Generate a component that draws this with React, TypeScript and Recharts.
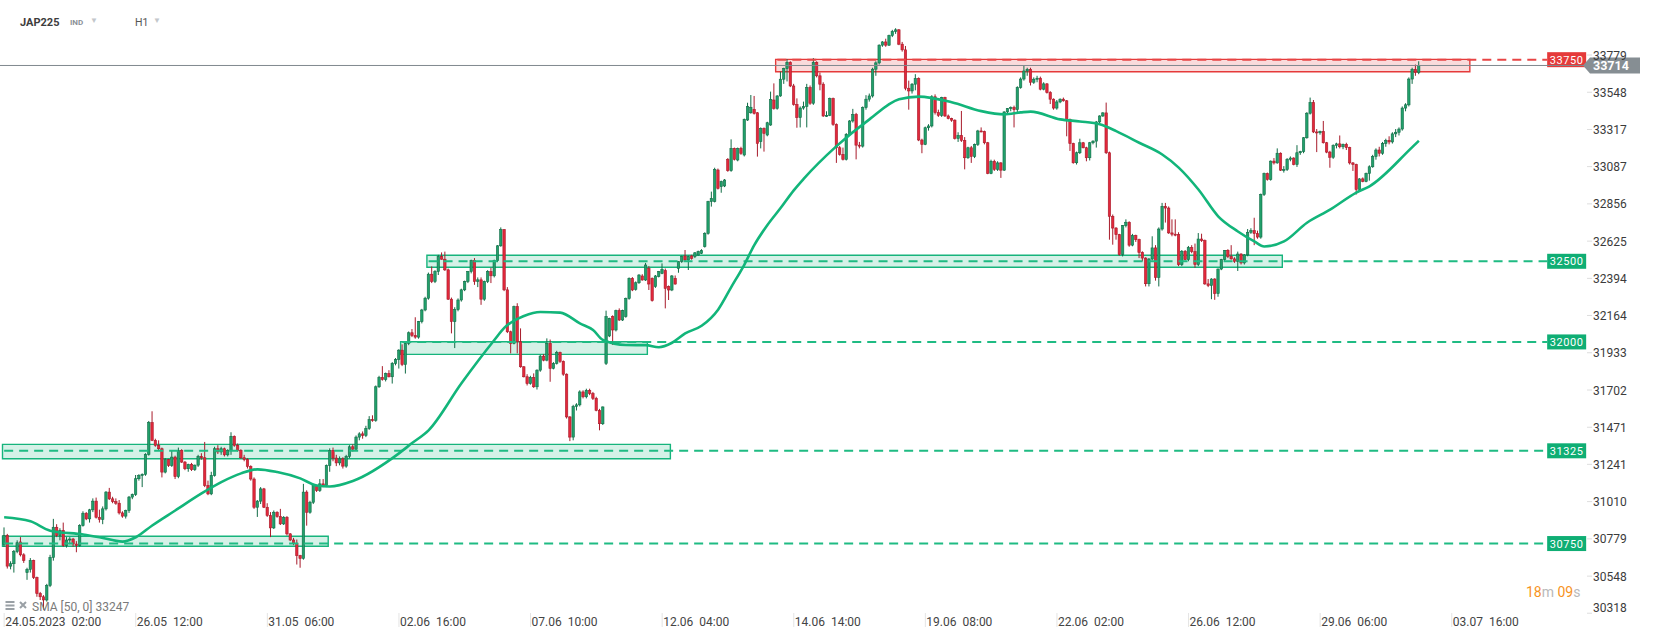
import React from "react";
import {
  Bar,
  ComposedChart,
  Line,
  ReferenceArea,
  ReferenceLine,
  XAxis,
  YAxis,
} from "recharts";

// hourly candles, [open, high, low, close]
type Ohlc = [number, number, number, number];

const leg1: Ohlc[] = [
  [30745,30850,30730,30800],[30800,30810,30595,30610],[30610,30640,30590,30625],[30625,30710,30570,30700],[30700,30770,30690,30755],[30760,30790,30670,30680],[30680,30690,30630,30645],[30570,30600,30525,30590],[30590,30660,30570,30645],[30645,30650,30530,30540],
  [30540,30545,30420,30440],[30440,30450,30400,30420],[30420,30430,30340,30400],[30400,30500,30390,30490],[30490,30680,30480,30664],[30664,30903,30644,30851],[30851,30870,30790,30800],[30800,30845,30770,30830],[30830,30880,30730,30737],[30737,30790,30725,30772],
  [30772,30790,30745,30778],[30778,30785,30730,30747],[30747,30765,30696,30737],[30737,30870,30730,30861],[30861,30950,30855,30938],[30938,30945,30895,30903],[30903,30965,30880,30959],[30959,31030,30945,31013],[31013,31035,30905,30913],[30913,30960,30880,30900],
  [30900,30980,30870,30965],[30965,31075,30955,31069],[31069,31095,31020,31027],[31027,31040,31000,31010],[31010,31030,30990,31000],[31000,31020,30930,30940],[30940,30950,30910,30920],[30920,30960,30905,30955],[30955,31045,30940,31038],[31038,31060,31025,31054],
  [31054,31175,31045,31152],[31152,31180,31140,31172],[31172,31185,31100,31179],[31179,31310,31170,31303],[31303,31510,31295,31500],[31500,31570,31385,31390],[31390,31400,31350,31359],[31359,31390,31330,31338],
];
const leg2: Ohlc[] = [
  [31338,31345,31160,31193],[31193,31280,31185,31270],[31270,31275,31225,31234],[31234,31325,31225,31286],[31286,31295,31150,31165],[31165,31345,31155,31328],[31328,31335,31250,31255],[31255,31262,31205,31214],[31214,31245,31195,31240],[31240,31250,31200,31208],
  [31208,31240,31200,31236],[31236,31300,31225,31290],[31290,31310,31270,31282],[31282,31380,31100,31110],[31110,31140,31050,31058],[31058,31195,31050,31172],[31172,31350,31165,31338],[31338,31360,31305,31318],[31318,31350,31300,31338],[31338,31345,31290,31300],
  [31300,31335,31290,31328],[31328,31440,31300,31415],[31415,31420,31350,31359],[31359,31370,31320,31328],[31328,31335,31275,31282],[31282,31300,31260,31272],[31272,31280,31215,31228],[31228,31235,31140,31150],[31150,31160,30965,30975],[30975,31020,30915,31013],
  [31013,31100,30995,31089],[31089,31095,30970,30975],[30975,31000,30915,30924],[30924,30945,30790,30847],[30847,30955,30840,30944],[30944,30950,30910,30917],[30917,30965,30865,30872],[30872,30920,30865,30913],[30913,30920,30800,30810],[30810,30815,30765,30772],
  [30772,30785,30740,30752],[30752,30775,30620,30675],[30675,30680,30600,30658],[30658,31120,30650,31069],[31069,31080,30861,30944],[30944,31015,30935,31006],[31006,31120,30995,31110],[31110,31115,31070,31079],
];
const leg3: Ohlc[] = [
  [31079,31150,31070,31120],[31120,31150,31100,31110],[31110,31240,31100,31234],[31234,31340,31195,31328],[31328,31345,31260,31280],[31280,31300,31230,31250],[31250,31290,31235,31275],[31275,31285,31215,31230],[31230,31300,31220,31290],[31290,31360,31280,31350],
  [31350,31365,31320,31335],[31335,31420,31325,31410],[31410,31440,31390,31430],[31430,31445,31400,31420],[31420,31480,31410,31464],[31464,31540,31455,31518],[31518,31545,31505,31514],[31514,31730,31505,31722],[31722,31790,31715,31780],[31780,31850,31760,31767],
  [31767,31810,31755,31804],[31804,31825,31780,31784],[31784,31875,31742,31867],[31867,31900,31855,31891],[31891,31955,31835,31949],[31949,31985,31850,31860],[31860,32000,31804,31991],[31991,32065,31980,32057],[32057,32080,32030,32040],[32040,32153,32020,32030],
  [32030,32130,32020,32126],[32126,32205,32115,32198],[32198,32280,32190,32271],[32271,32430,32262,32420],[32420,32468,32365,32375],[32375,32445,32365,32437],[32437,32540,32415,32530],[32530,32555,32510,32513],[32513,32560,32440,32447],[32447,32455,32260,32265],
  [32265,32275,32053,32126],[32126,32215,31962,32200],[32200,32270,32190,32260],[32260,32330,32250,32323],[32323,32380,32315,32375],[32375,32440,32365,32437],[32437,32510,32425,32505],[32505,32520,32354,32375],
];
const leg4: Ohlc[] = [
  [32375,32400,32340,32385],[32385,32400,32230,32265],[32265,32380,32255,32375],[32375,32445,32365,32437],[32437,32460,32365,32410],[32410,32510,32400,32505],[32505,32600,32495,32596],[32596,32710,32590,32696],[32696,32700,32315,32323],[32323,32340,32055,32063],
  [32063,32070,31929,31991],[31991,32225,31985,32219],[32219,32240,31929,32001],[32001,32084,31840,31846],[31846,31850,31780,31784],[31784,31800,31730,31742],[31742,31790,31735,31780],[31780,31805,31715,31722],[31722,31830,31705,31825],[31825,31920,31815,31912],
  [31912,31925,31880,31887],[31887,32022,31880,31991],[31991,32015,31753,31836],[31836,31875,31830,31867],[31867,31945,31860,31935],[31935,31940,31870,31880],[31880,31885,31790,31800],[31800,31805,31525,31535],[31535,31540,31385,31410],[31410,31610,31390,31600],
  [31600,31620,31575,31610],[31610,31700,31600,31690],[31690,31700,31650,31660],[31660,31710,31650,31700],[31700,31710,31670,31680],[31680,31690,31640,31650],[31650,31660,31570,31576],[31576,31585,31452,31493],[31493,31600,31485,31597],
  [31867,32194,31857,32157],[32037,32150,32030,32146],[32157,32165,31981,32074],[32074,32200,32065,32194],[32194,32208,32130,32136],[32136,32200,32130,32194],[32157,32275,32150,32270],[32270,32400,32262,32394],[32394,32402,32315,32322],
];
const leg5: Ohlc[] = [
  [32326,32375,32318,32367],[32367,32420,32360,32415],[32409,32420,32380,32384],[32384,32490,32378,32477],[32456,32470,32322,32359],[32394,32400,32250,32256],[32343,32415,32335,32409],[32405,32440,32400,32436],[32425,32487,32420,32450],[32442,32455,32208,32332],
  [32343,32350,32260,32322],[32322,32415,32315,32409],[32394,32412,32355,32359],[32456,32500,32429,32498],[32498,32535,32490,32529],[32533,32570,32500,32508],[32508,32535,32446,32529],[32533,32540,32510,32518],[32529,32556,32520,32553],[32539,32566,32535,32560],
  [32549,32575,32545,32566],[32591,32680,32585,32673],[32673,32875,32665,32870],[32870,32932,32839,32890],[32870,33080,32865,33070],[33066,33075,32945,32952],[32963,33000,32925,32994],[32967,33010,32960,33004],[33132,33140,33055,33062],[33062,33256,33055,33200],
  [33200,33205,33125,33132],[33128,33205,33120,33200],[33200,33210,33160,33169],[33159,33385,33150,33380],[33376,33483,33370,33459],[33421,33531,33415,33455],[33442,33525,33410,33417],[33421,33425,33149,33231],[33242,33330,33200,33324],[33324,33330,33180,33293],
  [33283,33365,33275,33359],[33345,33552,33340,33504],[33500,33603,33440,33448],[33448,33530,33440,33525],[33525,33676,33520,33629],[33629,33700,33600,33695],[33695,33753,33615,33733],[33733,33740,33580,33587],
];
const leg6: Ohlc[] = [
  [33587,33600,33465,33473],[33473,33510,33328,33391],[33391,33460,33330,33450],[33450,33490,33440,33460],[33460,33600,33330,33577],[33577,33590,33470,33480],[33480,33760,33470,33733],[33733,33740,33640,33650],[33650,33670,33560,33598],[33598,33610,33395,33401],
  [33401,33430,33395,33405],[33405,33515,33400,33509],[33509,33515,33340,33349],[33349,33355,33110,33204],[33204,33215,33155,33163],[33163,33205,33125,33132],[33132,33295,33125,33287],[33287,33375,33280,33370],[33370,33445,33360,33410],[33410,33420,33132,33220],
  [33220,33240,33200,33214],[33214,33460,33205,33453],[33453,33530,33440,33505],[33505,33540,33490,33525],[33525,33700,33515,33691],[33691,33740,33650,33730],[33730,33845,33720,33840],[33840,33865,33830,33860],[33860,33880,33830,33840],[33840,33905,33835,33900],
  [33900,33935,33890,33925],[33925,33945,33910,33935],[33935,33940,33840,33846],[33846,33860,33800,33811],[33811,33835,33560,33573],[33573,33620,33440,33556],[33556,33605,33540,33598],[33598,33660,33560,33633],[33633,33640,33245,33252],[33252,33260,33170,33225],
  [33225,33335,33220,33328],[33328,33350,33310,33339],[33339,33530,33330,33520],[33520,33535,33410,33422],[33422,33440,33395,33405],[33405,33520,33395,33515],[33515,33520,33395,33401],[33401,33410,33380,33385],
];
const leg7: Ohlc[] = [
  [33385,33390,33365,33375],[33375,33380,33255,33262],[33262,33300,33240,33280],[33280,33432,33240,33250],[33250,33270,33070,33142],[33142,33210,33135,33204],[33204,33215,33110,33150],[33150,33230,33140,33225],[33225,33315,33215,33308],[33308,33330,33300,33305],
  [33305,33310,33225,33235],[33235,33240,33040,33045],[33045,33130,33040,33120],[33120,33130,33060,33070],[33070,33120,33060,33110],[33110,33115,33017,33065],[33065,33430,33060,33426],[33426,33450,33410,33447],[33447,33460,33430,33453],[33453,33465,33330,33440],
  [33440,33585,33425,33577],[33577,33640,33570,33630],[33630,33715,33620,33680],[33680,33700,33650,33690],[33690,33700,33590,33610],[33610,33640,33600,33629],[33629,33650,33610,33635],[33635,33645,33560,33567],[33567,33610,33560,33600],[33600,33605,33540,33546],
  [33546,33555,33475,33505],[33505,33510,33440,33450],[33450,33500,33440,33488],[33488,33510,33480,33505],[33505,33515,33490,33495],[33495,33500,33275,33380],[33380,33385,33184,33230],[33230,33235,33105,33111],[33111,33180,33100,33173],[33173,33260,33165,33235],
  [33235,33240,33200,33204],[33204,33210,33120,33142],[33142,33240,33125,33235],[33235,33250,33225,33245],[33245,33370,33205,33364],[33364,33405,33355,33401],[33401,33425,33395,33420],[33420,33484,33165,33173],
];
const leg8: Ohlc[] = [
  [33173,33180,32634,32779],[32779,32790,32603,32706],[32706,32712,32634,32665],[32665,32670,32535,32541],[32541,32725,32530,32721],[32721,32760,32710,32742],[32742,32748,32590,32600],[32600,32670,32593,32660],[32660,32665,32620,32634],[32634,32640,32520,32555],
  [32555,32562,32500,32520],[32520,32525,32344,32361],[32361,32520,32344,32514],[32514,32655,32505,32583],[32583,32600,32380,32400],[32400,32710,32344,32700],[32700,32862,32690,32841],[32841,32862,32740,32830],[32830,32840,32670,32676],[32676,32760,32655,32668],
  [32668,32760,32655,32665],[32665,32680,32470,32479],[32479,32570,32470,32562],[32562,32570,32505,32510],[32510,32595,32500,32585],[32585,32600,32550,32560],[32560,32610,32460,32480],[32480,32675,32470,32638],[32638,32671,32620,32628],[32628,32635,32354,32360],
  [32360,32390,32340,32350],[32350,32395,32265,32390],[32390,32395,32261,32300],[32300,32455,32280,32452],[32452,32515,32445,32510],[32510,32570,32500,32568],[32568,32575,32520,32530],[32530,32600,32510,32515],[32515,32525,32490,32500],[32500,32560,32440,32545],
  [32545,32550,32480,32490],[32490,32545,32480,32540],[32540,32700,32531,32680],[32680,32705,32670,32690],[32690,32770,32600,32672],[32672,32690,32640,32650],[32650,32920,32640,32914],[32914,33050,32905,33044],
];
const leg9: Ohlc[] = [
  [33044,33050,33000,33007],[33007,33125,33000,33121],[33121,33140,33100,33110],[33110,33200,33105,33170],[33170,33175,33060,33065],[33065,33090,33050,33069],[33069,33140,33060,33132],[33132,33150,33120,33140],[33140,33145,33095,33100],[33100,33220,33085,33173],
  [33173,33185,33160,33180],[33180,33270,33170,33266],[33266,33425,33260,33418],[33418,33515,33410,33484],[33484,33500,33295,33302],[33302,33320,33177,33297],[33297,33310,33285,33305],[33305,33370,33230,33235],[33235,33240,33170,33177],[33177,33185,33080,33145],
  [33145,33225,33135,33218],[33218,33235,33200,33228],[33228,33280,33200,33210],[33210,33230,33195,33225],[33225,33235,33190,33205],[33205,33210,33100,33110],[33110,33115,33060,33100],[33100,33105,32914,32945],[32945,33015,32940,33011],[33011,33020,32990,32995],
  [32995,33050,32990,33045],[33045,33095,33000,33086],[33086,33160,33080,33150],[33150,33200,33130,33190],[33190,33210,33150,33170],[33170,33240,33160,33230],[33230,33260,33210,33250],[33250,33275,33225,33240],[33240,33300,33230,33290],[33290,33320,33270,33300],
  [33300,33330,33280,33320],[33320,33460,33310,33450],[33450,33480,33430,33470],[33470,33640,33460,33630],[33630,33700,33600,33690],[33690,33720,33650,33670],[33670,33740,33660,33714],
];

// SMA(50): [bar index, value]
const sma: [number, number][] = [
  [0,30913],[8,30888],[14,30830],[24,30806],[29,30789],[36,30762],[40,30789],[45,30862],[52,30955],[60,31061],
  [66,31131],[72,31185],[77,31210],[83,31193],[90,31154],[95,31110],[99,31104],[106,31138],[120,31309],[124,31373],
  [129,31452],[139,31744],[149,32012],[152,32087],[158,32161],[163,32186],[169,32182],[175,32115],[179,32074],[182,32012],
  [189,31981],[195,31980],[199,31967],[203,31995],[207,32053],[212,32100],[217,32200],[221,32340],[225,32480],[228,32600],
  [232,32725],[236,32830],[240,32940],[243,33011],[253,33214],[263,33380],[272,33504],[278,33521],[288,33486],[297,33431],
  [304,33411],[309,33423],[312,33428],[321,33380],[327,33367],[333,33349],[338,33307],[345,33235],[352,33162],[357,33081],
  [363,32945],[369,32779],[375,32685],[380,32623],[383,32592],[389,32623],[396,32739],[403,32820],[411,32926],[415,32965],
  [428,33208],[430,33247],
];

const xTickIdx = [0, 40, 80, 120, 160, 200, 240, 280, 320, 360, 400, 440];
const xTickDate = ["24.05.2023", "26.05", "31.05", "02.06", "07.06", "12.06", "14.06", "19.06", "22.06", "26.06", "29.06", "03.07"];
const xTickTime = ["02:00", "12:00", "06:00", "16:00", "10:00", "04:00", "14:00", "08:00", "02:00", "12:00", "06:00", "16:00"];
const yTicks = [30318, 30548, 30779, 31010, 31241, 31471, 31702, 31933, 32164, 32394, 32625, 32856, 33087, 33317, 33548, 33779];

// support / resistance zones
const levels = [33750, 32500, 32000, 31325, 30750];
const zoneTop = [33752, 32537, 32001, 31365, 30795];
const zoneBottom = [33675, 32463, 31923, 31276, 30733];
const zoneStart = [235, 129, 121, 0, 0];
const zoneEnd = [445, 388, 195, 202, 98];

const lastPrice = 33714;
const smaLast = 33247;

const SLOTS = 481;
const FONT = "Roboto, 'Noto Sans', sans-serif";
const GREEN = "#16b47c";
const RED = "#e53a3a";

const candles = [...leg1, ...leg2, ...leg3, ...leg4, ...leg5, ...leg6, ...leg7, ...leg8, ...leg9];
const smaMap = new Map(sma);
const rows = Array.from({ length: SLOTS }, (_, i) => {
  const k = candles[i];
  const s = smaMap.has(i) ? smaMap.get(i) : null;
  if (!k) return { i, sma: s };
  return { i, o: k[0], h: k[1], l: k[2], c: k[3], range: [k[2], k[1]], sma: s };
});

const Candle = (props: any) => {
  const { x, y, width, height, payload } = props;
  if (!payload || payload.o == null || !isFinite(y) || !isFinite(height)) return null;
  const { o, h, l, c } = payload;
  const top = Math.min(y, y + height);
  const span = Math.abs(height);
  const k = h > l ? span / (h - l) : 0;
  const cx = x + width / 2;
  const bTop = top + (h - Math.max(o, c)) * k;
  const bBot = top + (h - Math.min(o, c)) * k;
  const up = c >= o;
  const fill = up ? "#21a06b" : "#e2283b";
  const edge = up ? "#116c46" : "#a81b2b";
  return (
    <g>
      <line x1={cx} x2={cx} y1={top} y2={top + span} stroke={edge} strokeWidth={1} />
      <rect x={cx - 1.2} y={bTop} width={2.4} height={Math.max(1, bBot - bTop)} fill={fill} stroke={edge} strokeWidth={0.6} />
    </g>
  );
};

const XTick = (props: any) => {
  const { x, y, payload } = props;
  const n = xTickIdx.indexOf(payload.value);
  if (n < 0) return null;
  return (
    <g>
      <line x1={x} x2={x} y1={y - 7} y2={y + 7} stroke="#e4e4e4" strokeWidth={1} />
      <text x={x + 1} y={y + 5.5} fontSize={12} fill="#444" fontFamily={FONT}>
        <tspan>{xTickDate[n]}</tspan>
        <tspan dx={6}>{xTickTime[n]}</tspan>
      </text>
    </g>
  );
};

const YTick = (props: any) => {
  const { x, y, payload } = props;
  return (
    <g>
      <line x1={x + 2} x2={x + 7} y1={y} y2={y} stroke="#dedede" strokeWidth={1} />
      <text x={x + 8} y={Math.min(y, 607)} dy={4.5} fontSize={12} fill="#3b3b3b" fontFamily={FONT}>
        {payload.value}
      </text>
    </g>
  );
};

const levelTag = (text: string, color: string) => (props: any) => {
  const vb = props.viewBox || {};
  const ex = (vb.x || 0) + (vb.width || 0);
  const cy = vb.y || 0;
  return (
    <g>
      <rect x={ex} y={cy - 7.5} width={39} height={15} fill={color} />
      <text x={ex + 19.5} y={cy + 4} textAnchor="middle" fontSize={11} letterSpacing={0.6} fill="#fff" fontFamily={FONT}>
        {text}
      </text>
    </g>
  );
};

const priceTag = (props: any) => {
  const vb = props.viewBox || {};
  const ex = (vb.x || 0) + (vb.width || 0) - 2;
  const cy = vb.y || 0;
  return (
    <g>
      <polygon
        points={`${ex},${cy} ${ex + 7},${cy - 8} ${ex + 57},${cy - 8} ${ex + 57},${cy + 8} ${ex + 7},${cy + 8}`}
        fill="#868e93"
      />
      <text x={ex + 10} y={cy + 4.5} fontSize={12.5} fontWeight={700} fill="#fff" fontFamily={FONT}>
        {lastPrice}
      </text>
    </g>
  );
};

export default function App() {
  return (
    <div
      style={{
        position: "absolute",
        left: 0,
        top: 0,
        width: 1653,
        height: 638,
        background: "#fff",
        overflow: "hidden",
        fontFamily: FONT,
      }}
    >
      <ComposedChart width={1653} height={638} data={rows} margin={{ top: 0, right: 0, left: 0, bottom: 0 }}>
        <XAxis
          dataKey="i"
          type="category"
          ticks={xTickIdx}
          interval={0}
          tick={<XTick />}
          tickLine={false}
          axisLine={false}
          tickSize={0}
          tickMargin={0}
          height={18}
          padding={{ left: 2.5, right: 0 }}
        />
        <YAxis
          orientation="right"
          type="number"
          domain={[30276, 34120]}
          allowDataOverflow
          ticks={yTicks}
          interval={0}
          tick={<YTick />}
          tickLine={false}
          axisLine={false}
          tickSize={0}
          tickMargin={0}
          width={68}
        />
        <Bar dataKey="range" barSize={3} shape={(p: any) => <Candle {...p} />} isAnimationActive={false} />
        {levels.map((lv, n) => (
          <ReferenceLine
            key={`lv${lv}`}
            segment={[
              { x: zoneStart[n], y: lv },
              { x: 469, y: lv },
            ]}
            stroke={n === 0 ? "#e84545" : "#1fbb83"}
            strokeWidth={2}
            strokeDasharray="9 6"
            label={levelTag(String(lv), n === 0 ? RED : "#0fae74")}
          />
        ))}
        {levels.map((lv, n) => (
          <ReferenceArea
            key={`zone${lv}`}
            x1={zoneStart[n]}
            x2={zoneEnd[n]}
            y1={zoneBottom[n]}
            y2={zoneTop[n]}
            fill={n === 0 ? RED : GREEN}
            fillOpacity={0.18}
            stroke={n === 0 ? RED : GREEN}
            strokeWidth={1.4}
            strokeOpacity={1}
          />
        ))}
        <ReferenceLine y={lastPrice} stroke="#80888e" strokeWidth={1} label={priceTag} />
        <Line
          dataKey="sma"
          type="monotone"
          stroke="#12b57a"
          strokeWidth={2.6}
          dot={false}
          activeDot={false}
          connectNulls
          isAnimationActive={false}
        />
      </ComposedChart>

      <div style={{ position: "absolute", left: 20, top: 16, fontSize: 11, fontWeight: 700, color: "#3d3d3d" }}>JAP225</div>
      <div style={{ position: "absolute", left: 70, top: 18, fontSize: 8, fontWeight: 700, color: "#8c9197" }}>IND</div>
      <div style={{ position: "absolute", left: 90, top: 16, fontSize: 8, color: "#c3c7cb" }}>▼</div>
      <div style={{ position: "absolute", left: 135, top: 16, fontSize: 10.5, color: "#555" }}>H1</div>
      <div style={{ position: "absolute", left: 153, top: 16, fontSize: 8, color: "#c3c7cb" }}>▼</div>

      <svg style={{ position: "absolute", left: 5, top: 600 }} width={26} height={12}>
        <rect x={0.5} y={1} width={9} height={2} fill="#9aa0a5" />
        <rect x={0.5} y={4.5} width={9} height={2} fill="#9aa0a5" />
        <rect x={0.5} y={8} width={9} height={2} fill="#9aa0a5" />
        <path d="M15 2 L21 8 M21 2 L15 8" stroke="#9aa0a5" strokeWidth={2} />
      </svg>
      <div style={{ position: "absolute", left: 32, top: 600, fontSize: 12, color: "#7a7a7a", lineHeight: "14px" }}>
        SMA [50, 0] {smaLast}
      </div>

      <div style={{ position: "absolute", left: 1526, top: 583, fontSize: 14, lineHeight: "18px" }}>
        <span style={{ color: "#f7931e" }}>18</span>
        <span style={{ color: "#b9b9b9" }}>m </span>
        <span style={{ color: "#f7931e" }}>09</span>
        <span style={{ color: "#b9b9b9" }}>s</span>
      </div>
    </div>
  );
}
